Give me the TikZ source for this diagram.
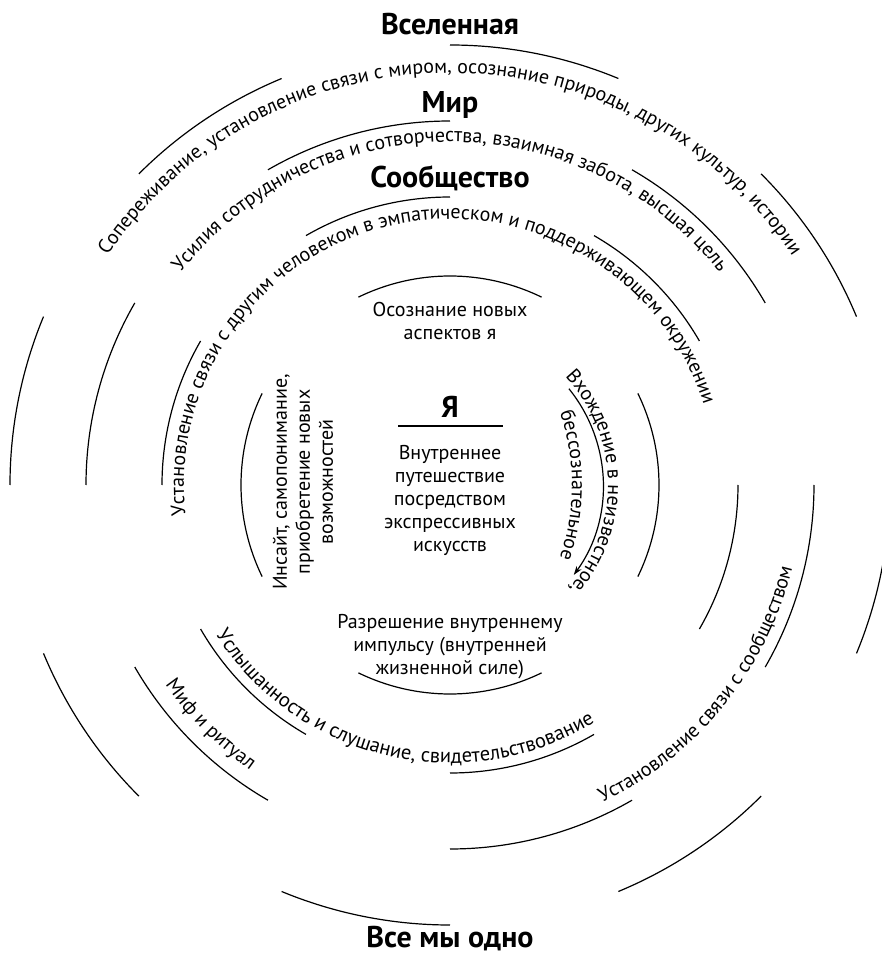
\documentclass[tikz,border=0pt]{standalone}
\usepackage{fontspec}
\setmainfont{PT Sans}
\usetikzlibrary{decorations.text,arrows.meta}
\newcommand{\ringfont}{\fontsize{20pt}{23pt}\selectfont}
\tikzset{
  ring/.style = {line width=1.2pt},
  title/.style = {font=\fontsize{30pt}{34pt}\selectfont\bfseries, anchor=base, inner sep=0pt},
  innertext/.style = {font=\fontsize{20pt}{23pt}\selectfont, align=center, inner sep=0pt},
  curvetext/.style = {decorate, decoration={text along path, text align=center}}
}

\begin{document}
\begin{tikzpicture}[x=1pt, y=1pt]
  \useasboundingbox (-450,-470) rectangle (432,485);
  \clip (-450,-470) rectangle (432,485);
  \coordinate (C) at (0,0);

  % titles
  \node[title] (universe) at (0,450) {Вселенная};
  \node[title] (world) at (0,372) {Мир};
  \node[title] (community) at (0,297) {Сообщество};
  \node[title] (self) at (0,67) {Я};
  \node[title] (allone) at (0,-462) {Все мы одно};
  \draw[ring] (-52,59) -- (53,59);

  % inner ring texts
  \node[innertext] (aspects) at (0,164) {Осознание новых\\аспектов я};
  \node[innertext] (journey) at (0,-15) {Внутреннее\\путешествие\\посредством\\экспрессивных\\искусств};
  \node[innertext] (impulse) at (0,-162) {Разрешение внутреннему\\импульсу (внутренней\\жизненной силе)};
  \node[innertext, rotate=90] (insight) at (-147,3) {Инсайт, самопонимание,\\приобретение новых\\возможностей};

  % ring 1
  \draw[ring] (64:209pt) arc[start angle=64, end angle=116, radius=209pt];
  \draw[ring] (154:209pt) arc[start angle=154, end angle=206, radius=209pt];
  \draw[ring] (244:209pt) arc[start angle=244, end angle=296, radius=209pt];
  \draw[ring] (-26:209pt) arc[start angle=-26, end angle=26, radius=209pt];

  % ring 2
  \draw[ring] (30:288pt) arc[start angle=30, end angle=60, radius=288pt];
  \draw[ring] (90:288pt) arc[start angle=90, end angle=120, radius=288pt];
  \draw[ring] (150:288pt) arc[start angle=150, end angle=180, radius=288pt];
  \draw[ring] (210:288pt) arc[start angle=210, end angle=240, radius=288pt];
  \draw[ring] (270:288pt) arc[start angle=270, end angle=300, radius=288pt];
  \draw[ring] (330:288pt) arc[start angle=330, end angle=360, radius=288pt];

  % ring 3
  \draw[ring] (30:364pt) arc[start angle=30, end angle=60, radius=364pt];
  \draw[ring] (90:364pt) arc[start angle=90, end angle=120, radius=364pt];
  \draw[ring] (150:364pt) arc[start angle=150, end angle=180, radius=364pt];
  \draw[ring] (210:364pt) arc[start angle=210, end angle=240, radius=364pt];
  \draw[ring] (270:364pt) arc[start angle=270, end angle=300, radius=364pt];
  \draw[ring] (330:364pt) arc[start angle=330, end angle=360, radius=364pt];

  % ring 4
  \draw[ring] (22.5:440pt) arc[start angle=22.5, end angle=45, radius=440pt];
  \draw[ring] (67.5:440pt) arc[start angle=67.5, end angle=90, radius=440pt];
  \draw[ring] (112.5:440pt) arc[start angle=112.5, end angle=135, radius=440pt];
  \draw[ring] (157.5:440pt) arc[start angle=157.5, end angle=180, radius=440pt];
  \draw[ring] (202.5:440pt) arc[start angle=202.5, end angle=225, radius=440pt];
  \draw[ring] (247.5:440pt) arc[start angle=247.5, end angle=270, radius=440pt];
  \draw[ring] (292.5:440pt) arc[start angle=292.5, end angle=315, radius=440pt];
  \draw[ring] (337.5:440pt) arc[start angle=337.5, end angle=360, radius=440pt];

  % arrow into the unknown
  \coordinate (arrowstart) at (39:153pt);
  \draw[ring, -{Stealth[length=9pt, width=6pt]}] (arrowstart) arc[start angle=39, end angle=-36, radius=153pt];

  % texts along the rings
  \path[curvetext, decoration={text={|\ringfont|Сопереживание, установление связи с миром, осознание природы, других культур, истории}}]
    (175:412pt) arc[start angle=175, end angle=5, radius=412pt];
  \path[curvetext, decoration={text={|\ringfont|Усилия сотрудничества и сотворчества, взаимная забота, высшая цель}}]
    (170:343pt) arc[start angle=170, end angle=10, radius=343pt];
  \path[curvetext, decoration={text={|\ringfont|Установление связи с другим человеком в эмпатическом и поддерживающем окружении}}]
    (200:266pt) arc[start angle=200, end angle=4, radius=266pt];
  \path[curvetext, decoration={text={|\ringfont|Установление связи с сообществом}}]
    (-80:352pt) arc[start angle=-80, end angle=2, radius=352pt];
  \path[curvetext, decoration={text={|\fontsize{20.5pt}{23pt}\selectfont|Услышанность и слушание, свидетельствование}}]
    (200:278pt) arc[start angle=200, end angle=314, radius=278pt];
  \path[curvetext, decoration={text={|\ringfont|Миф и ритуал}}]
    (195:348pt) arc[start angle=195, end angle=255, radius=348pt];
  \path[curvetext, decoration={text={|\ringfont|Вхождение в неизвестное,}}]
    (60:158pt) arc[start angle=60, end angle=-58, radius=158pt];
  \path[curvetext, decoration={text={|\ringfont|бессознательное}}]
    (-100,0) ++(40:222pt) arc[start angle=40, end angle=-40, radius=222pt];
\end{tikzpicture}
\end{document}
